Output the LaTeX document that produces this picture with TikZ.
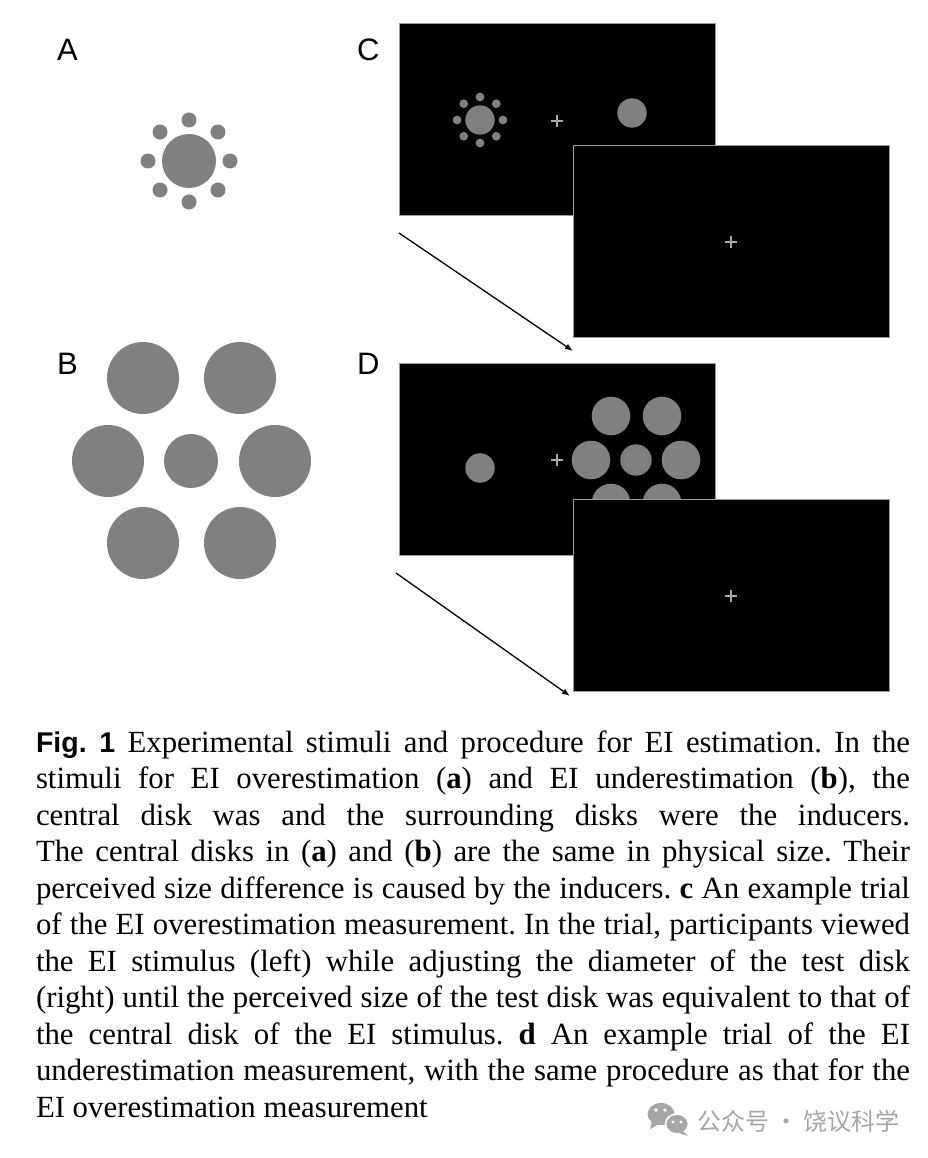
\documentclass[tikz,border=0pt]{standalone}
\usepackage{fontspec}
\setmainfont{Liberation Serif}
\setsansfont{Liberation Sans}
\newfontfamily\cjkfont{Noto Sans CJK SC}
\usetikzlibrary{calc,arrows.meta}
\definecolor{diskgray}{HTML}{808080}
\definecolor{crossgray}{HTML}{A8A8A8}
\definecolor{screenedge}{HTML}{9A9A9A}
\definecolor{wmgray}{HTML}{A6A6A6}
\begin{document}
\begin{tikzpicture}[x=1pt,y=-1pt,
  disk/.style={circle,fill=diskgray,draw=none,inner sep=0pt,outer sep=0pt,minimum size=#1},
  screen/.style={rectangle,fill=black,draw=screenedge,line width=0.6pt,inner sep=0pt,outer sep=0pt,minimum width=316pt,minimum height=192pt},
  crossline/.style={draw=crossgray,line width=1.9pt},
  flow/.style={draw=black,line width=1.3pt,-{Latex[length=8pt,width=6pt]}},
  panellabel/.style={anchor=base west,inner sep=0pt,font=\sffamily\fontsize{31}{31}\selectfont}]
\useasboundingbox[fill=white] (0,0) rectangle (928,1158);

% ---------- panel labels
\node[panellabel] (lA) at (57,61) {A};
\node[panellabel] (lB) at (57,374) {B};
\node[panellabel] (lC) at (357,61) {C};
\node[panellabel] (lD) at (357,374) {D};

% ---------- panel A
\node[disk=54pt] (acen) at (189,161) {};
\foreach \k in {0,...,7}
  \node[disk=15pt] (adot\k) at ($(acen)+(\k*45:41)$) {};

% ---------- panel B
\node[disk=54pt] (bcen) at (191,461) {};
\node[disk=72pt] (b1) at (143,378) {};
\node[disk=72pt] (b2) at (240,378) {};
\node[disk=72pt] (b3) at (108,461) {};
\node[disk=72pt] (b4) at (275,461) {};
\node[disk=72pt] (b5) at (143,543) {};
\node[disk=72pt] (b6) at (240,543) {};

% ---------- panel C
\node[screen] (c1) at (557,119) {};
\node[disk=29.4pt] (c1e) at (480,120) {};
\foreach \k in {0,...,7}
  \node[disk=8.8pt] (c1dot\k) at ($(c1e)+(\k*45:23)$) {};
\coordinate (c1x) at (557,121);
\draw[crossline] ($(c1x)+(-6,0)$) -- ($(c1x)+(6,0)$);
\draw[crossline] ($(c1x)+(0,-6)$) -- ($(c1x)+(0,6)$);
\node[disk=29.4pt] (c1t) at (632,113) {};
\node[screen] (c2) at (731,241) {};
\coordinate (c2x) at (731,242);
\draw[crossline] ($(c2x)+(-6,0)$) -- ($(c2x)+(6,0)$);
\draw[crossline] ($(c2x)+(0,-6)$) -- ($(c2x)+(0,6)$);
\coordinate (ca) at (399,233);
\coordinate (cb) at (573,351);
\draw[flow] (ca) -- (cb);

% ---------- panel D
\node[screen] (d1) at (557,459) {};
\node[disk=29.4pt] (d1t) at (480,468) {};
\coordinate (d1x) at (557,460);
\draw[crossline] ($(d1x)+(-6,0)$) -- ($(d1x)+(6,0)$);
\draw[crossline] ($(d1x)+(0,-6)$) -- ($(d1x)+(0,6)$);
\node[disk=31.4pt] (d1e) at (636,460) {};
\node[disk=38.6pt] (d1e1) at (611,416) {};
\node[disk=38.6pt] (d1e2) at (662,416) {};
\node[disk=38.6pt] (d1e3) at (591,460) {};
\node[disk=38.6pt] (d1e4) at (681,460) {};
\node[disk=38.6pt] (d1e5) at (611,503) {};
\node[disk=38.6pt] (d1e6) at (662,503) {};
\node[screen] (d2) at (731,595) {};
\coordinate (d2x) at (731,596);
\draw[crossline] ($(d2x)+(-6,0)$) -- ($(d2x)+(6,0)$);
\draw[crossline] ($(d2x)+(0,-6)$) -- ($(d2x)+(0,6)$);
\coordinate (da) at (396,573);
\coordinate (db) at (570,696);
\draw[flow] (da) -- (db);

% ---------- caption
\node[anchor=base west,inner sep=0pt,outer sep=0pt,text width=874pt,align=justify,
      font=\fontsize{30.8}{36.5}\selectfont] (cap) at (36,752)
{\frenchspacing\tolerance=10000{\sffamily\bfseries\fontsize{28.5}{36.5}\selectfont Fig. 1} Experimental stimuli and procedure for EI estimation. In the\linebreak
stimuli for EI overestimation (\textbf{a}) and EI underestimation (\textbf{b}), the\linebreak
central disk was and the surrounding disks were the inducers.\linebreak
The central disks in (\textbf{a}) and (\textbf{b}) are the same in physical size. Their\linebreak
perceived size difference is caused by the inducers. \textbf{c} An example trial\linebreak
of the EI overestimation measurement. In the trial, participants viewed\linebreak
the EI stimulus (left) while adjusting the diameter of the test disk\linebreak
(right) until the perceived size of the test disk was equivalent to that of\linebreak
the central disk of the EI stimulus. \textbf{d} An example trial of the EI\linebreak
underestimation measurement, with the same procedure as that for the\linebreak
EI overestimation measurement};

% ---------- watermark
\fill[wmgray] (661,1114) ellipse [x radius=13.5, y radius=11];
\fill[wmgray] (652,1121) -- (650,1129) -- (659,1124) -- cycle;
\filldraw[fill=wmgray,draw=white,line width=1.6pt] (677,1124) ellipse [x radius=11.5, y radius=10];
\fill[wmgray] (683,1131) -- (688,1136) -- (679,1133) -- cycle;
\fill[white] (656,1110) circle [radius=1.8];
\fill[white] (665,1110) circle [radius=1.8];
\fill[white] (673,1122) circle [radius=1.6];
\fill[white] (681,1122) circle [radius=1.6];
\node[anchor=base west,inner sep=0pt,text=wmgray,font=\cjkfont\fontsize{24}{24}\selectfont] (wm) at (697,1130) {公众号 · 饶议科学};
\end{tikzpicture}
\end{document}
